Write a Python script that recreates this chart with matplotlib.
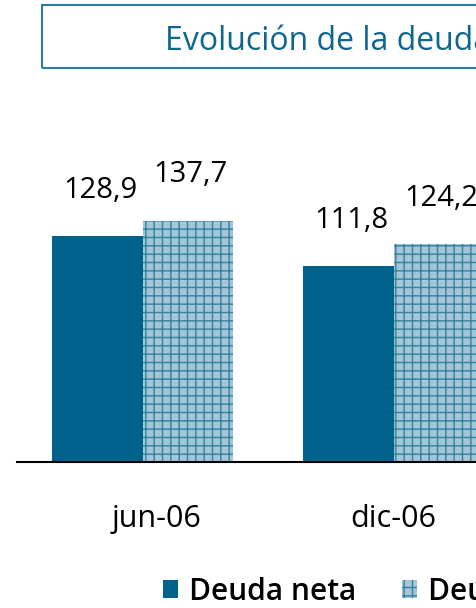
import numpy as np
import matplotlib.pyplot as plt
from matplotlib.patches import Rectangle
from matplotlib.transforms import ScaledTranslation

plt.rcParams['font.family'] = ['Open Sans', 'DejaVu Sans']
plt.rcParams['hatch.linewidth'] = 1.0

# data (millones de euros)
categories = ["jun-06", "dic-06"]
deuda_neta = [128.9, 111.8]
deuda_bruta = [137.7, 124.2]
series_labels = ["Deuda neta", "Deuda bruta"]

dark = '#00628b'
light = '#a3c6d8'
hatch_col = '#37809f'

W, H = 477, 608
fig = plt.figure(figsize=(W/100, H/100), dpi=100)

# axes run off the right edge, as the original chart is cropped
ax = fig.add_axes([17/W, 146/H, 753/W, 280.5/H])
x = np.arange(len(categories))
w = 0.3586

b1 = ax.bar(x - w/2, deuda_neta, w, color=dark, linewidth=0, label=series_labels[0])
b2 = ax.bar(x + w/2, deuda_bruta, w, color=light, edgecolor=hatch_col,
            linewidth=0, hatch='++', label=series_labels[1])

for bars, vals in [(b1, deuda_neta), (b2, deuda_bruta)]:
    for r, v in zip(bars, vals):
        ax.annotate(f"{v:.1f}".replace('.', ','),
                    (r.get_x() + r.get_width()/2, v),
                    xytext=(2, 27.5), textcoords='offset points',
                    ha='center', va='baseline', fontsize=21)

ax.set_xlim(-0.5, 2.5)
ax.set_ylim(0, 160)
ax.set_xticks(x)
ax.set_xticklabels(categories, fontsize=22)
ax.tick_params(axis='x', length=0, pad=30)
ax.set_yticks([])
for s in ['top', 'left', 'right']:
    ax.spines[s].set_visible(False)
ax.spines['bottom'].set_linewidth(1.5)
# first category label sits a bit right in the original
lbl = ax.get_xticklabels()[0]
lbl.set_transform(lbl.get_transform() + ScaledTranslation(14/100, 0, fig.dpi_scale_trans))

# title box
fig.patches.append(Rectangle((42/W, 1 - 68/H), 500/W, 63/H, transform=fig.transFigure,
                             fill=False, edgecolor='#2a7aa3', linewidth=1.5))
fig.text(165/W, 1 - 50/H, "Evolución de la deuda (millones de euros)",
         color='#0d6590', fontsize=23, ha='left', va='baseline')

fig.legend(loc='upper left', bbox_to_anchor=(163/W, 1 - 577/H), ncol=2, frameon=False,
           prop={'size': 21.5, 'weight': 'semibold'}, handlelength=0.5, handleheight=0.55,
           handletextpad=0.36, columnspacing=1.55, borderpad=0, borderaxespad=0)

fig.savefig('out.png', dpi=100)
